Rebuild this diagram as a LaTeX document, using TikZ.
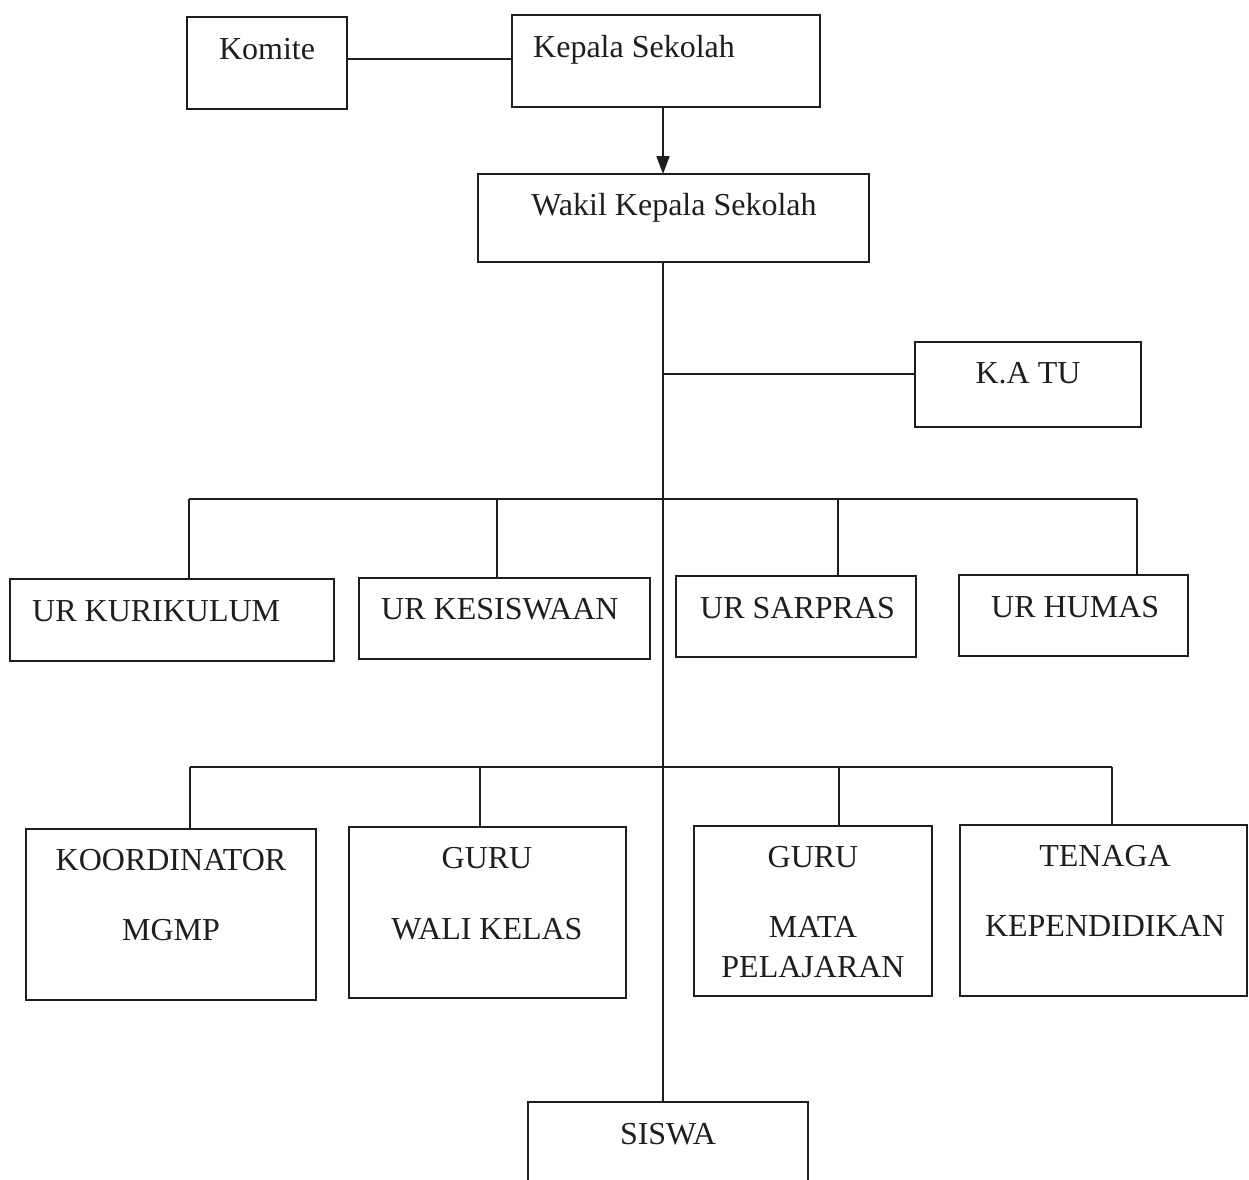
\documentclass[tikz,border=0pt]{standalone}
\usepackage{fontspec}
\setmainfont{Liberation Serif}
\usetikzlibrary{arrows.meta,fit}
\definecolor{ink}{HTML}{1E1E1E}
\newcommand\orgbox[5]{\node[box,fit={(#2,#3) (#4,#5)}] (#1) {};}
\begin{document}
\begin{tikzpicture}[x=1pt,y=-1pt,
  box/.style={draw=ink,line width=2pt,inner sep=0pt,outer sep=0pt,rectangle},
  lbl/.style={text=ink,font=\fontsize{32}{38}\selectfont,inner sep=0pt,anchor=base},
  lblw/.style={lbl,anchor=base west},
  conn/.style={draw=ink,line width=2pt},
]
\useasboundingbox (0,0) rectangle (1249,1179);
\clip (0,0) rectangle (1249,1179);
% boxes
\orgbox{komite}{187}{17}{347}{109}
\orgbox{kepala}{512}{15}{820}{107}
\orgbox{wakil}{478}{174}{869}{262}
\orgbox{katu}{915}{342}{1141}{427}
\orgbox{kur}{10}{579}{334}{661}
\orgbox{kes}{359}{578}{650}{659}
\orgbox{sar}{676}{576}{916}{657}
\orgbox{hum}{959}{575}{1188}{656}
\orgbox{koor}{26}{829}{316}{1000}
\orgbox{wali}{349}{827}{626}{998}
\orgbox{mapel}{694}{826}{932}{996}
\orgbox{tenaga}{960}{825}{1247}{996}
\orgbox{siswa}{528}{1102}{808}{1200}
% texts
\node[lbl] (komite-t) at (267,59) {Komite};
\node[lblw] (kepala-t) at (533,57) {Kepala Sekolah};
\node[lbl] (wakil-t) at (674,215) {Wakil Kepala Sekolah};
\node[lbl] (katu-t) at (1028,383) {K.A TU};
\node[lblw] (kur-t) at (32,621) {UR KURIKULUM};
\node[lblw] (kes-t) at (381,619) {UR KESISWAAN};
\node[lblw] (sar-t) at (700,618) {UR SARPRAS};
\node[lblw] (hum-t) at (991,617) {UR HUMAS};
\node[lbl] (koor-t1) at (171,870) {KOORDINATOR};
\node[lbl] (koor-t2) at (171,940) {MGMP};
\node[lbl] (wali-t1) at (487,868) {GURU};
\node[lbl] (wali-t2) at (487,939) {WALI KELAS};
\node[lbl] (mapel-t1) at (813,867) {GURU};
\node[lbl] (mapel-t2) at (813,937) {MATA};
\node[lbl] (mapel-t3) at (813,977) {PELAJARAN};
\node[lbl] (tenaga-t1) at (1105,866) {TENAGA};
\node[lbl] (tenaga-t2) at (1105,936) {KEPENDIDIKAN};
\node[lbl] (siswa-t) at (668,1144) {SISWA};
% coordinates
\coordinate (tx) at (663,0);
\coordinate (ky) at (0,59);
\coordinate (uy) at (0,374);
\coordinate (b1) at (189,499);
\coordinate (b2) at (497,499);
\coordinate (b3) at (838,499);
\coordinate (b4) at (1137,499);
\coordinate (c1) at (190,767);
\coordinate (c2) at (480,767);
\coordinate (c3) at (839,767);
\coordinate (c4) at (1112,767);
% connectors
\draw[conn] (komite.east |- ky) -- (kepala.west |- ky);
\draw[conn,-{Triangle[length=18pt,width=13pt]}] (kepala.south -| tx) -- (wakil.north -| tx);
\draw[conn] (wakil.south -| tx) -- (siswa.north -| tx);
\draw[conn] (tx |- uy) -- (katu.west |- uy);
\draw[conn] (b1) -- (b4);
\draw[conn] (b1) -- (b1 |- kur.north);
\draw[conn] (b2) -- (b2 |- kes.north);
\draw[conn] (b3) -- (b3 |- sar.north);
\draw[conn] (b4) -- (b4 |- hum.north);
\draw[conn] (c1) -- (c4);
\draw[conn] (c1) -- (c1 |- koor.north);
\draw[conn] (c2) -- (c2 |- wali.north);
\draw[conn] (c3) -- (c3 |- mapel.north);
\draw[conn] (c4) -- (c4 |- tenaga.north);
\end{tikzpicture}
\end{document}
